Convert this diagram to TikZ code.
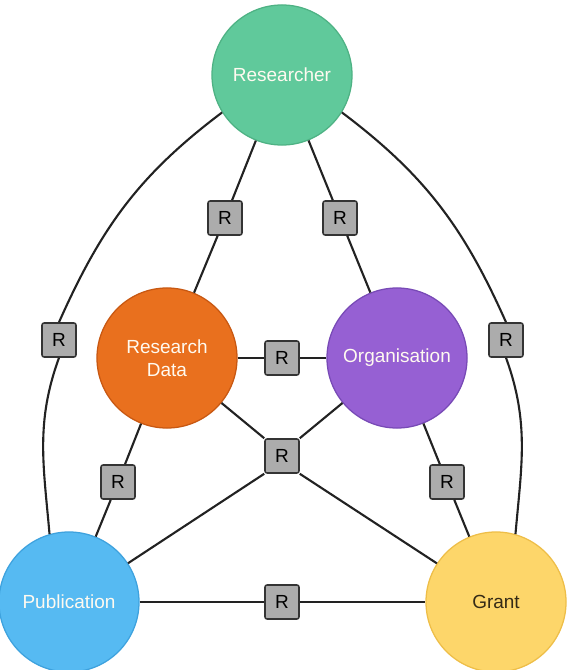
\documentclass[tikz,border=0pt]{standalone}
\usepackage{fontspec}
\setmainfont{Liberation Sans}
\usetikzlibrary{positioning}
\definecolor{ResearcherFill}{RGB}{96, 201, 155}
\definecolor{ResearcherEdge}{RGB}{78, 178, 132}
\definecolor{DataFill}{RGB}{233, 112, 30}
\definecolor{DataEdge}{RGB}{200, 88, 18}
\definecolor{OrgFill}{RGB}{150, 96, 211}
\definecolor{OrgEdge}{RGB}{120, 74, 182}
\definecolor{PubFill}{RGB}{86, 186, 242}
\definecolor{PubEdge}{RGB}{62, 162, 222}
\definecolor{GrantFill}{RGB}{253, 214, 106}
\definecolor{GrantEdge}{RGB}{238, 190, 72}
\definecolor{RelFill}{RGB}{172, 172, 172}
\definecolor{RelEdge}{RGB}{52, 52, 52}
\definecolor{LinkBlack}{RGB}{34, 34, 34}
\definecolor{LightText}{RGB}{255, 250, 240}
\definecolor{DarkText}{RGB}{52, 42, 22}

\begin{document}
\begin{tikzpicture}[
    x=0.025cm, y=0.025cm,
    font=\fontsize{13.5}{16.5}\selectfont,
    entity/.style={
        circle,
        minimum size=3.5cm,        % circles of 140px
        inner sep=0pt,
        align=center,
        line width=0.9pt,
        text=LightText
    },
    relation/.style={
        draw=RelEdge,
        fill=RelFill,
        minimum size=0.85cm,
        inner sep=0pt,
        rounded corners=1.5pt,
        line width=1.1pt,
        text=black
    },
    link/.style={
        draw=LinkBlack,
        line width=1.5pt
    }
]
    \useasboundingbox (0,0) rectangle (568,-670);

    % --- 1. Entities ---
    \node[entity, fill=ResearcherFill, draw=ResearcherEdge] (researcher) at (282,-75) {Researcher};
    \node[entity, fill=DataFill, draw=DataEdge] (rdata) at (167,-358) {Research\\Data};
    \node[entity, fill=OrgFill, draw=OrgEdge] (org) at (397,-358) {Organisation};
    \node[entity, fill=PubFill, draw=PubEdge] (pub) at (69,-602) {Publication};
    \node[entity, fill=GrantFill, draw=GrantEdge, text=DarkText] (grant) at (496,-602) {Grant};

    % --- 2. Relations ---
    \node[relation] (r-res-data) at (225,-218) {R};
    \node[relation] (r-res-org) at (340,-218) {R};
    \node[relation] (r-res-pub) at (59,-340) {R};
    \node[relation] (r-res-grant) at (506,-340) {R};
    \node[relation] (r-data-org) at (282,-358) {R};
    \node[relation] (r-cross) at (282,-456) {R};
    \node[relation] (r-data-pub) at (118,-482) {R};
    \node[relation] (r-org-grant) at (447,-482) {R};
    \node[relation] (r-pub-grant) at (282,-602) {R};

    % --- 3. Links ---
    \draw[link] (researcher) -- (r-res-data) -- (rdata);
    \draw[link] (researcher) -- (r-res-org) -- (org);
    \draw[link] (rdata) -- (r-data-org) -- (org);
    \draw[link] (rdata) -- (r-data-pub) -- (pub);
    \draw[link] (org) -- (r-org-grant) -- (grant);
    \draw[link] (pub) -- (r-pub-grant) -- (grant);

    % crossing links meet the corners of the middle box
    \draw[link] (rdata) -- (r-cross.north west);
    \draw[link] (r-cross.south east) -- (grant);
    \draw[link] (org) -- (r-cross.north east);
    \draw[link] (r-cross.south west) -- (pub);

    % outer arcs
    \draw[link] (researcher.212) to[out=217, in=66] (r-res-pub.north);
    \draw[link] (r-res-pub.south) to[out=250, in=95] (pub.106);
    \draw[link] (researcher.328) to[out=323, in=114] (r-res-grant.north);
    \draw[link] (r-res-grant.south) to[out=290, in=85] (grant.74);

\end{tikzpicture}
\end{document}
